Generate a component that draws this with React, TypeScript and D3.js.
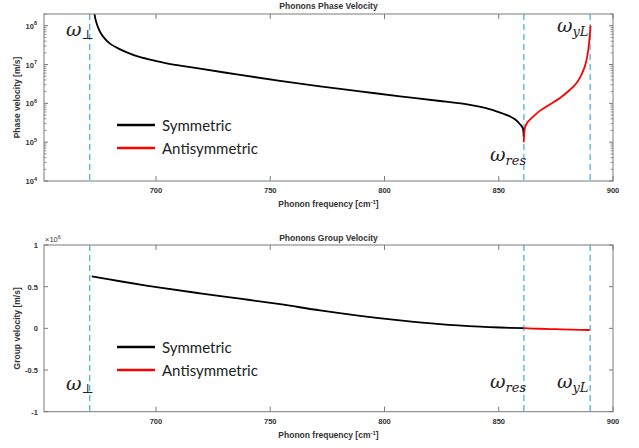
import React from "react";
import * as d3 from "d3";

// ---- data ----
const xTicks = [700, 750, 800, 850, 900];
const phaseTicks = [1e4, 1e5, 1e6, 1e7, 1e8];
const groupTicks = [-1, -0.5, 0, 0.5, 1];
const groupTickLabels = ["-1", "-0.5", "0", "0.5", "1"];

const omegaPerp = 671;
const omegaRes = 861;
const omegaYL = 890;

const phaseSymFreq = [672.5, 673.0, 674.0, 675.5, 677.5, 680.0, 683.0, 687.0, 692.0, 698.0, 704.8, 712.0, 719.3, 736.8, 754.3, 771.8, 789.3, 806.8, 824.3, 837.4, 844.0, 850.6, 855.0, 857.1, 859.3, 860.5, 860.9];
const phaseSymVel = [5.0e8, 2.14e8, 1.15e8, 7.0e7, 4.7e7, 3.4e7, 2.69e7, 2.09e7, 1.62e7, 1.32e7, 1.07e7, 9.1e6, 7.8e6, 5.4e6, 3.8e6, 2.75e6, 2.04e6, 1.51e6, 1.15e6, 9.1e5, 7.6e5, 5.8e5, 4.6e5, 3.9e5, 2.9e5, 2.3e5, 1.4e5];

const phaseAntiFreq = [860.95, 861.2, 861.6, 862.5, 863.7, 866.0, 868.1, 872.5, 876.8, 881.2, 884.0, 886.0, 887.5, 888.7, 889.5, 890.2];
const phaseAntiVel = [1.0e5, 1.8e5, 2.5e5, 3.2e5, 3.8e5, 5.1e5, 6.5e5, 9.5e5, 1.38e6, 2.24e6, 3.3e6, 5.2e6, 8.3e6, 1.58e7, 3.5e7, 1.0e8];

const groupSymFreq = [671.9, 684.3, 701.8, 719.3, 736.8, 754.3, 771.8, 789.3, 806.8, 824.3, 841.8, 850.6, 860.9];
const groupSymVel = [0.624e6, 0.565e6, 0.488e6, 0.42e6, 0.356e6, 0.29e6, 0.215e6, 0.15e6, 0.095e6, 0.05e6, 0.02e6, 0.01e6, 0.002e6];

const groupAntiFreq = [860.9, 868, 875, 882, 889.8];
const groupAntiVel = [0.002e6, -0.005e6, -0.01e6, -0.015e6, -0.02e6];

// ---- layout ----
const W = 639;
const H = 448;
const L = 44;
const R = 613;
const P1 = { top: 14, bottom: 181 };
const P2 = { top: 245, bottom: 411.7 };

const axisColor = "#7a7a7a";
const labelColor = "#333";
const dashColor = "#4BB4E6";
const font = "'Liberation Sans', Arial, sans-serif";
const legendFont = "Lato, 'Open Sans', sans-serif";
const mathFont = "'DejaVu Serif', serif";

const x = d3.scaleLinear().domain([651, 900]).range([L, R]);
const y1 = d3.scaleLog().domain([1e4, 2e8]).range([P1.bottom, P1.top]);
const y2 = d3.scaleLinear().domain([-1e6, 1e6]).range([P2.bottom, P2.top]);

function Omega({ xp, yp, sub, perp }: { xp: number; yp: number; sub: string; perp?: boolean }) {
  return (
    <text x={xp} y={yp} fontFamily={mathFont} fontStyle="italic" fontSize={19} fill="#222">
      ω
      {perp ? (
        <tspan fontStyle="normal" fontSize={13} dy={3}>⊥</tspan>
      ) : (
        <tspan fontSize={13} dy={4}>{sub}</tspan>
      )}
    </text>
  );
}

function Legend({ yTop }: { yTop: number }) {
  return (
    <g>
      <line x1={117} x2={155} y1={yTop} y2={yTop} stroke="#000" strokeWidth={2.5} />
      <text x={162} y={yTop + 5.5} fontFamily={legendFont} fontSize={15} fill="#222">Symmetric</text>
      <line x1={117} x2={155} y1={yTop + 23} y2={yTop + 23} stroke="#ff0000" strokeWidth={2.5} />
      <text x={162} y={yTop + 28.5} fontFamily={legendFont} fontSize={15} fill="#222">Antisymmetric</text>
    </g>
  );
}

function XAxis({ top, bottom }: { top: number; bottom: number }) {
  return (
    <g>
      {xTicks.map((t) => (
        <g key={t}>
          <line x1={x(t)} x2={x(t)} y1={bottom} y2={bottom - 5} stroke={axisColor} />
          <line x1={x(t)} x2={x(t)} y1={top} y2={top + 5} stroke={axisColor} />
          <text x={x(t)} y={bottom + 12} textAnchor="middle" fontFamily={font} fontSize={7.5} fontWeight="bold" fill={labelColor}>{t}</text>
        </g>
      ))}
      <text x={(L + R) / 2} y={bottom + 26} textAnchor="middle" fontFamily={font} fontSize={8.5} fontWeight="bold" fill={labelColor}>
        Phonon frequency [cm<tspan dy={-3} fontSize={6}>-1</tspan><tspan dy={3}>]</tspan>
      </text>
    </g>
  );
}

function Frame({ top, bottom }: { top: number; bottom: number }) {
  return <rect x={L} y={top} width={R - L} height={bottom - top} fill="none" stroke={axisColor} strokeWidth={1} />;
}

function VLines({ top, bottom }: { top: number; bottom: number }) {
  return (
    <g>
      {[omegaPerp, omegaRes, omegaYL].map((v) => (
        <line key={v} x1={x(v)} x2={x(v)} y1={top} y2={bottom} stroke={dashColor} strokeWidth={1.3} strokeDasharray="6,4" />
      ))}
    </g>
  );
}

export default function App() {
  const line1 = d3
    .line<[number, number]>()
    .x((d) => x(d[0]))
    .y((d) => y1(d[1]))
    .curve(d3.curveCatmullRom.alpha(0.5));
  const line2 = d3
    .line<[number, number]>()
    .x((d) => x(d[0]))
    .y((d) => y2(d[1]))
    .curve(d3.curveCatmullRom.alpha(0.5));

  const zip = (a: number[], b: number[]) => a.map((v, i) => [v, b[i]] as [number, number]);

  const minor: number[] = [];
  for (let e = 4; e <= 8; e++) {
    for (let k = 2; k <= 9; k++) {
      const v = k * Math.pow(10, e);
      if (v <= 2e8) minor.push(v);
    }
  }

  return (
    <svg width={W} height={H} style={{ position: "absolute", left: 0, top: 0, background: "#fff" }}>
      <defs>
        <clipPath id="clip1">
          <rect x={L} y={P1.top} width={R - L} height={P1.bottom - P1.top} />
        </clipPath>
        <clipPath id="clip2">
          <rect x={L} y={P2.top} width={R - L} height={P2.bottom - P2.top} />
        </clipPath>
      </defs>

      {/* ---------- Top plot ---------- */}
      <text x={(L + R) / 2} y={9} textAnchor="middle" fontFamily={font} fontSize={8.5} fontWeight="bold" fill={labelColor}>Phonons Phase Velocity</text>
      <VLines top={P1.top} bottom={P1.bottom} />
      <g clipPath="url(#clip1)">
        <path d={line1(zip(phaseSymFreq, phaseSymVel)) || ""} fill="none" stroke="#000" strokeWidth={1.8} />
        <path d={line1(zip(phaseAntiFreq, phaseAntiVel)) || ""} fill="none" stroke="#ff0000" strokeWidth={1.8} />
      </g>
      <Frame top={P1.top} bottom={P1.bottom} />
      {phaseTicks.map((t) => {
        const e = Math.round(Math.log10(t));
        return (
          <g key={t}>
            <line x1={L} x2={L + 4} y1={y1(t)} y2={y1(t)} stroke={axisColor} />
            <line x1={R} x2={R - 4} y1={y1(t)} y2={y1(t)} stroke={axisColor} />
            <text x={37} y={y1(t) + 3} textAnchor="end" fontFamily={font} fontSize={7.5} fontWeight="bold" fill={labelColor}>
              10<tspan dy={-3.5} fontSize={5.5}>{e}</tspan>
            </text>
          </g>
        );
      })}
      {minor.map((t) => (
        <g key={"m" + t}>
          <line x1={L} x2={L + 2.5} y1={y1(t)} y2={y1(t)} stroke={axisColor} strokeWidth={0.8} />
          <line x1={R} x2={R - 2.5} y1={y1(t)} y2={y1(t)} stroke={axisColor} strokeWidth={0.8} />
        </g>
      ))}
      <XAxis top={P1.top} bottom={P1.bottom} />
      <text transform={`translate(20,${(P1.top + P1.bottom) / 2}) rotate(-90)`} textAnchor="middle" fontFamily={font} fontSize={8.5} fontWeight="bold" fill={labelColor}>Phase velocity [m/s]</text>
      <Legend yTop={125} />
      <Omega xp={66} yp={36} sub="" perp />
      <Omega xp={490} yp={161} sub="res" />
      <Omega xp={557} yp={32} sub="yL" />

      {/* ---------- Bottom plot ---------- */}
      <text x={(L + R) / 2} y={241} textAnchor="middle" fontFamily={font} fontSize={8.5} fontWeight="bold" fill={labelColor}>Phonons Group Velocity</text>
      <VLines top={P2.top} bottom={P2.bottom} />
      <g clipPath="url(#clip2)">
        <path d={line2(zip(groupSymFreq, groupSymVel)) || ""} fill="none" stroke="#000" strokeWidth={1.8} />
        <path d={line2(zip(groupAntiFreq, groupAntiVel)) || ""} fill="none" stroke="#ff0000" strokeWidth={1.8} />
      </g>
      <Frame top={P2.top} bottom={P2.bottom} />
      {groupTicks.map((t, i) => (
        <g key={t}>
          <line x1={L} x2={L + 4} y1={y2(t * 1e6)} y2={y2(t * 1e6)} stroke={axisColor} />
          <line x1={R} x2={R - 4} y1={y2(t * 1e6)} y2={y2(t * 1e6)} stroke={axisColor} />
          <text x={38} y={y2(t * 1e6) + 3} textAnchor="end" fontFamily={font} fontSize={7.5} fontWeight="bold" fill={labelColor}>{groupTickLabels[i]}</text>
        </g>
      ))}
      <text x={45} y={242} fontFamily={font} fontSize={7.5} fill={labelColor}>
        ×10<tspan dy={-3.5} fontSize={5.5}>6</tspan>
      </text>
      <XAxis top={P2.top} bottom={P2.bottom} />
      <text transform={`translate(20,${(P2.top + P2.bottom) / 2}) rotate(-90)`} textAnchor="middle" fontFamily={font} fontSize={8.5} fontWeight="bold" fill={labelColor}>Group velocity [m/s]</text>
      <Legend yTop={347} />
      <Omega xp={66} yp={390} sub="" perp />
      <Omega xp={490} yp={388} sub="res" />
      <Omega xp={557} yp={388} sub="yL" />
    </svg>
  );
}
